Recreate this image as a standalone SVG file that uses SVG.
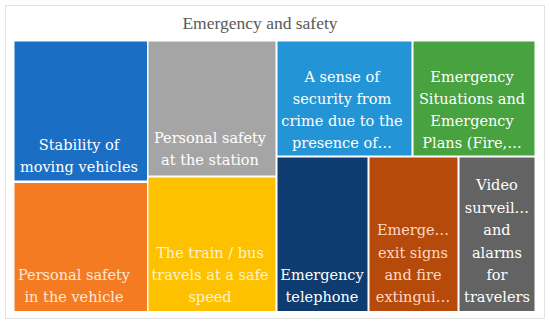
<svg xmlns="http://www.w3.org/2000/svg" width="550" height="325" viewBox="0 0 550 325">
<style>
.t{font-family:"DejaVu Serif","Liberation Serif",serif;font-size:14.5px;text-anchor:middle;fill:#ffffff}
.tile{stroke:#ffffff;stroke-width:1}
.title{font-family:"Liberation Serif","DejaVu Serif",serif;font-size:17.5px;text-anchor:middle;fill:#595959}
</style>
<rect x="0" y="0" width="550" height="325" fill="#ffffff"/>
<rect x="5.5" y="5.5" width="539" height="313" fill="#ffffff" stroke="#e3e3e3" stroke-width="1"/>
<text class="title" x="260" y="29">Emergency and safety</text>
<g id="n1"><rect class="tile" x="14" y="41" width="133.5" height="140" fill="#1a6ec3"/>
<text class="t" x="79" y="150">Stability of</text><text class="t" x="79" y="172">moving vehicles</text></g>
<g id="n2"><rect class="tile" x="148" y="41" width="128" height="135" fill="#a5a5a5"/>
<text class="t" x="210" y="143">Personal safety</text><text class="t" x="210" y="165">at the station</text></g>
<g id="n3"><rect class="tile" x="277" y="41" width="135" height="115" fill="#2394d6"/>
<text class="t" x="342" y="82">A sense of</text><text class="t" x="342" y="104">security from</text><text class="t" x="342" y="126">crime due to the</text><text class="t" x="342" y="148">presence of…</text></g>
<g id="n4"><rect class="tile" x="413" y="41" width="122" height="115" fill="#47a23f"/>
<text class="t" x="472" y="82">Emergency</text><text class="t" x="472" y="104">Situations and</text><text class="t" x="472" y="126">Emergency</text><text class="t" x="472" y="148">Plans (Fire,…</text></g>
<g id="n5"><rect class="tile" x="14" y="182.5" width="133.5" height="129" fill="#f47b22"/>
<text class="t" x="74" y="280" style="fill:#ffe8d8">Personal safety</text><text class="t" x="74" y="302" style="fill:#ffe8d8">in the vehicle</text></g>
<g id="n6"><rect class="tile" x="148" y="177" width="128" height="134.5" fill="#fec100"/>
<text class="t" x="210" y="258" style="fill:#fff3d0">The train / bus</text><text class="t" x="210" y="280" style="fill:#fff3d0">travels at a safe</text><text class="t" x="210" y="302" style="fill:#fff3d0">speed</text></g>
<g id="n7"><rect class="tile" x="277" y="157" width="91" height="154.5" fill="#0e3b70"/>
<text class="t" x="322" y="280">Emergency</text><text class="t" x="322" y="302">telephone</text></g>
<g id="n8"><rect class="tile" x="369" y="157" width="89" height="154.5" fill="#b54a0a"/>
<text class="t" x="413" y="235" style="fill:#ffd8c8">Emerge…</text><text class="t" x="413" y="258" style="fill:#ffd8c8">exit signs</text><text class="t" x="413" y="280" style="fill:#ffd8c8">and fire</text><text class="t" x="413" y="302" style="fill:#ffd8c8">extingui…</text></g>
<g id="n9"><rect class="tile" x="459" y="157" width="76" height="154.5" fill="#636363"/>
<text class="t" x="497" y="190">Video</text><text class="t" x="497" y="212.5">surveil…</text><text class="t" x="497" y="235">and</text><text class="t" x="497" y="257.5">alarms</text><text class="t" x="497" y="280">for</text><text class="t" x="497" y="302">travelers</text></g>
<g id="connectors"></g>
</svg>
